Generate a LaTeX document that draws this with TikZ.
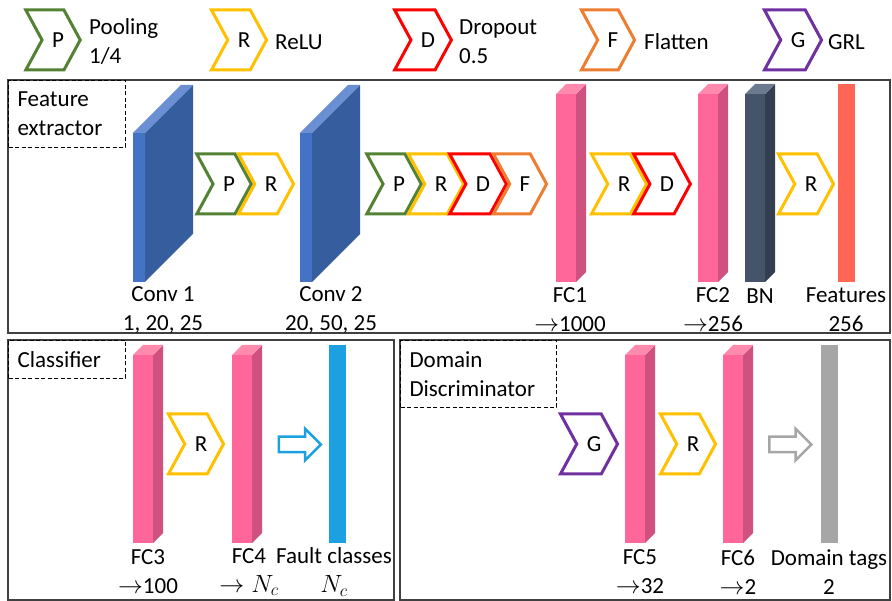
\documentclass[tikz,border=0pt]{standalone}
\usepackage{fontspec}
\setmainfont{Carlito}
\usetikzlibrary{shapes.symbols,shapes.arrows}

\definecolor{poolcol}{HTML}{548235}
\definecolor{relucol}{HTML}{FFC000}
\definecolor{dropcol}{HTML}{FF0000}
\definecolor{flatcol}{HTML}{ED7D31}
\definecolor{grlcol}{HTML}{7030A0}
\definecolor{convF}{HTML}{4472C4}
\definecolor{convS}{HTML}{365E9E}
\definecolor{convT}{HTML}{6A8FD2}
\definecolor{fcF}{HTML}{FF6699}
\definecolor{fcS}{HTML}{CE5180}
\definecolor{fcT}{HTML}{FF8AAD}
\definecolor{bnF}{HTML}{44546A}
\definecolor{bnS}{HTML}{333F50}
\definecolor{bnT}{HTML}{6B7A8F}
\definecolor{featcol}{HTML}{FF6655}
\definecolor{classcol}{HTML}{1BA1E2}
\definecolor{tagcol}{HTML}{A6A6A6}

% slab: name, centre of front face, width, height, depth, colour set
\newcommand{\slab}[6]{%
  \node[slabface, fill=#6F, minimum width=#3, minimum height=#4] (#1) at (#2) {};
  \fill[#6S] (#1.north east) -- ++(#5,-#5) -- ++(0,#4) -- (#1.south east) -- cycle;
  \fill[#6T] (#1.north west) -- ++(#5,-#5) -- ++(#3,0) -- (#1.north east) -- cycle;
}

\begin{document}
\begin{tikzpicture}[x=1pt,y=-1pt,
  font=\fontsize{23}{29}\selectfont,
  chev/.style={signal, signal from=west, signal to=east, signal pointer angle=123,
    draw=#1, line width=3pt, minimum width=50, minimum height=60, inner sep=0pt,
    execute at begin node=\hspace*{10pt}},
  slabface/.style={rectangle, inner sep=0pt, outer sep=0pt},
  bar/.style={rectangle, inner sep=0pt, fill=#1, minimum width=17, minimum height=198},
  lbl/.style={align=center, inner sep=0pt},
  key/.style={anchor=west, align=left, inner sep=0pt},
  frame/.style={draw=black!75, line width=1.5pt},
  tag/.style={draw, dash pattern=on 4pt off 2.5pt, line width=1pt, anchor=north west,
    align=left, inner xsep=9pt, inner ysep=0pt},
  blockarrow/.style={single arrow, draw=#1, line width=2.5pt, inner sep=0pt,
    text height=13, text depth=0, minimum height=42, single arrow head extend=8}]
\useasboundingbox (0,0) rectangle (892,601);

% legend
\node[chev=poolcol] (kp) at (53,40) {P};
\node[key] (kpt) at (89,42) {Pooling\\1/4};
\node[chev=relucol] (kr) at (239,40) {R};
\node[key] (krt) at (275,42) {ReLU};
\node[chev=dropcol] (kd) at (423,40) {D};
\node[key] (kdt) at (459,42) {Dropout\\0.5};
\node[chev=flatcol] (kf) at (608,40) {F};
\node[key] (kft) at (644,42) {Flatten};
\node[chev=grlcol] (kg) at (793,40) {G};
\node[key] (kgt) at (828,42) {GRL};

% frames
\draw[frame] (8,80) rectangle (890,333);
\draw[frame] (8,340) rectangle (394,600);
\draw[frame] (400,340) rectangle (890,600);
\node[tag, text width=99, minimum height=67] (tfeat) at (8,80) {Feature\\extractor};
\node[tag, text width=99, minimum height=38] (tclass) at (8,340) {Classifier};
\node[tag, text width=138, minimum height=67] (tdom) at (400,340) {Domain\\Discriminator};

% feature extractor
\slab{conv1}{139,207.5}{12}{149}{48}{conv}
\slab{conv2}{306,207.5}{12}{149}{48}{conv}
\slab{fc1}{566,188}{20}{188}{10}{fc}
\slab{fc2}{708,188}{20}{188}{10}{fc}
\slab{bn}{755,188}{20}{188}{10}{bn}
\node[bar=featcol] (feat) at (846.5,183) {};

\node[chev=poolcol] (p1) at (224,184) {P};
\node[chev=relucol] (r1) at (266,184) {R};
\node[chev=poolcol] (p2) at (394,184) {P};
\node[chev=relucol] (r2) at (436,184) {R};
\node[chev=dropcol] (d1) at (478,184) {D};
\node[chev=flatcol] (f1) at (520,184) {F};
\node[chev=relucol] (r3) at (619,184) {R};
\node[chev=dropcol] (d2) at (662,184) {D};
\node[chev=relucol] (r4) at (806,184) {R};

\node[lbl] (conv1l) at (163,310) {Conv 1\\1, 20, 25};
\node[lbl] (conv2l) at (331,310) {Conv 2\\20, 50, 25};
\node[lbl] (fc1l) at (570,310) {FC1\\$\rightarrow$1000};
\node[lbl] (fc2l) at (713,310) {FC2\\$\rightarrow$256};
\node[lbl] (bnl) at (760,296) {BN};
\node[lbl] (featl) at (846,310) {Features\\256};

% classifier
\slab{fc3}{143,449}{20}{188}{10}{fc}
\slab{fc4}{242,449}{20}{188}{10}{fc}
\node[bar=classcol] (cls) at (337.5,444) {};
\node[chev=relucol] (r5) at (196,444) {R};
\node[blockarrow=classcol] (a1) at (296,444.5) {};

\node[lbl] (fc3l) at (148,572) {FC3\\$\rightarrow$100};
\node[lbl] (fc4l) at (249,572) {FC4\\$\rightarrow N_c$};
\node[lbl] (clsl) at (334,572) {Fault classes\\$N_c$};

% domain discriminator
\slab{fc5}{635,449}{20}{188}{10}{fc}
\slab{fc6}{733,449}{20}{188}{10}{fc}
\node[bar=tagcol] (tags) at (829.5,444) {};
\node[chev=grlcol] (g1) at (589,444) {G};
\node[chev=relucol] (r6) at (688,444) {R};
\node[blockarrow=tagcol] (a2) at (786.5,444.5) {};

\node[lbl] (fc5l) at (640,572) {FC5\\$\rightarrow$32};
\node[lbl] (fc6l) at (738,572) {FC6\\$\rightarrow$2};
\node[lbl] (tagsl) at (829,572) {Domain tags\\2};
\end{tikzpicture}
\end{document}
